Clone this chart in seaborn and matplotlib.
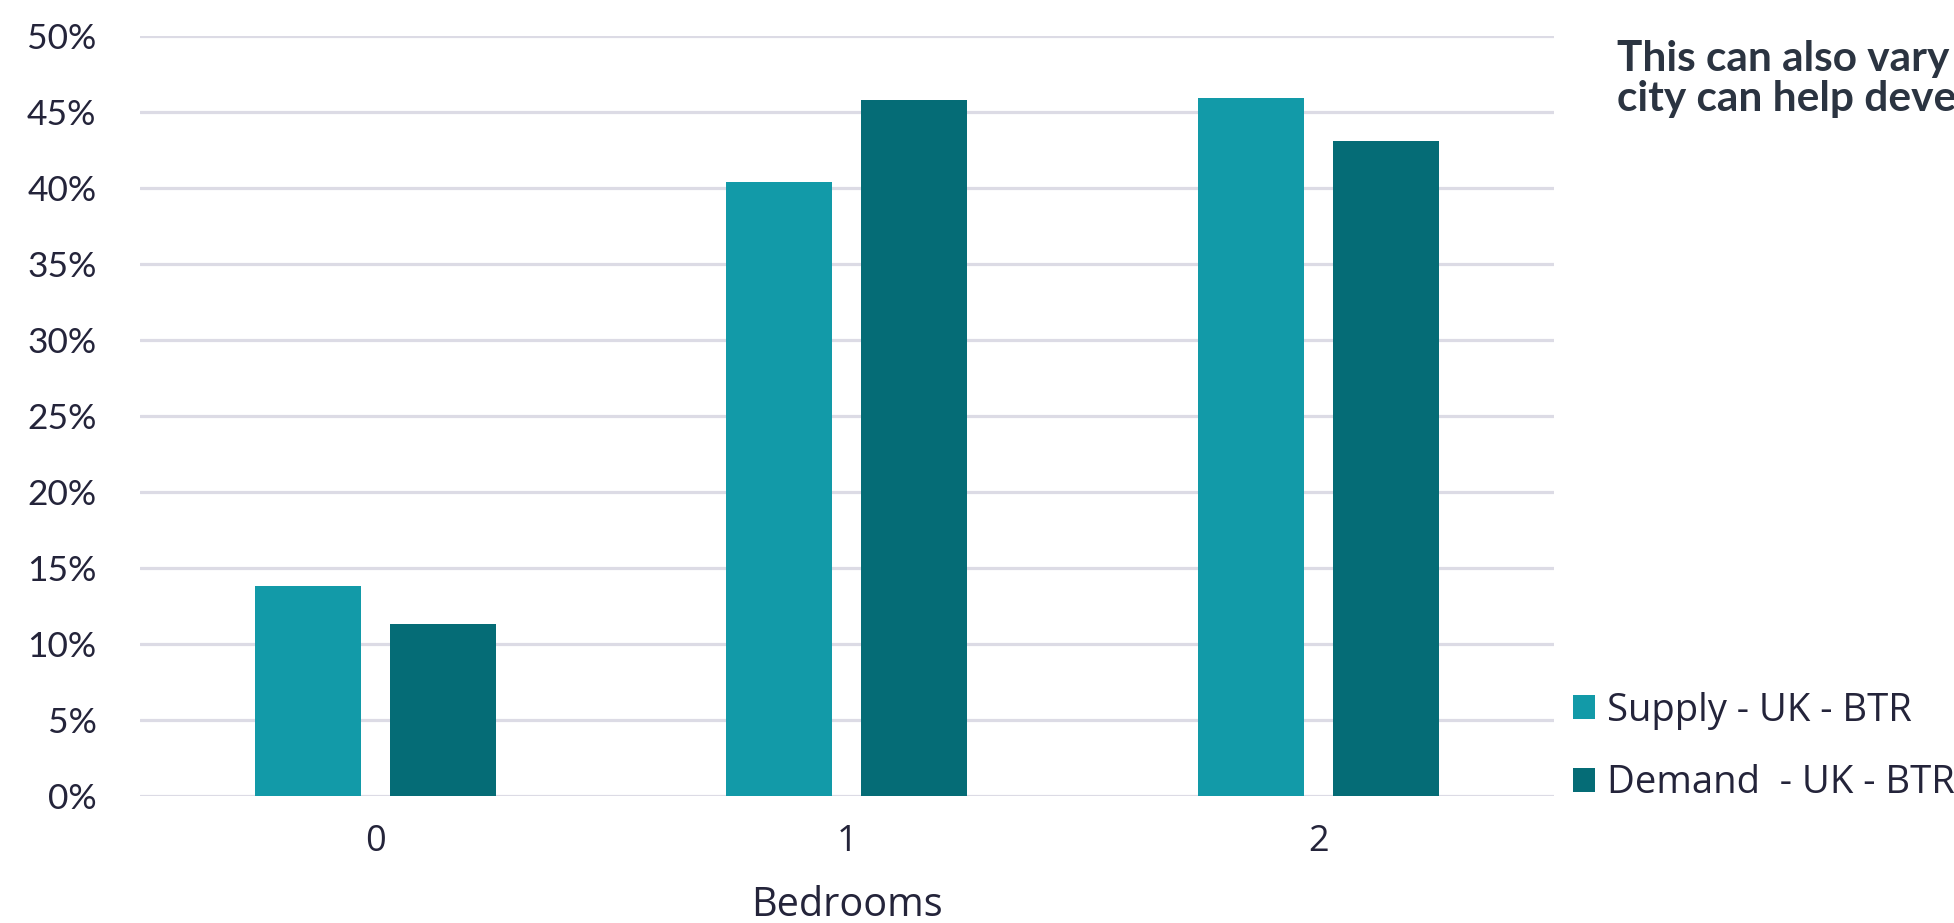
import matplotlib
matplotlib.use("Agg")
import matplotlib.pyplot as plt
from matplotlib.ticker import PercentFormatter, MultipleLocator
import seaborn as sns
import pandas as pd

# Share of units by bedroom count
bedrooms = ["0", "1", "2"]
supply = [0.138, 0.404, 0.459]
demand = [0.113, 0.458, 0.431]
series_names = ["Supply - UK - BTR", "Demand  - UK - BTR"]
series_colors = ["#129AA8", "#056C76"]

header_lines = ["This can also vary by city, so knowing the",
                "city can help developers plan their schemes"]

df = pd.DataFrame({
    "Bedrooms": bedrooms * 2,
    "Share": supply + demand,
    "Series": [series_names[0]] * len(bedrooms) + [series_names[1]] * len(bedrooms),
})

sns.set_theme(style="white")
text_color = "#24243a"
grid_color = "#dcdbe5"

fig = plt.figure(figsize=(19.54, 9.23), dpi=100)
ax = fig.add_axes([0.0714, 0.1376, 0.7239, 0.8234])

sns.barplot(data=df, x="Bedrooms", y="Share", hue="Series", order=bedrooms,
            hue_order=series_names, palette=series_colors, saturation=1,
            width=0.572, gap=0.215, linewidth=0, ax=ax, zorder=3)

ax.set_xlim(-0.5, 2.5)
ax.set_ylim(0, 0.5)
ax.yaxis.set_major_locator(MultipleLocator(0.05))
ax.yaxis.set_major_formatter(PercentFormatter(1.0, decimals=0))
ax.grid(axis="y", color=grid_color, linewidth=2.3, zorder=0)
ax.set_axisbelow(True)
for s in ax.spines.values():
    s.set_visible(False)

ax.tick_params(axis="y", length=0, pad=31, labelsize=25.5, labelcolor=text_color)
ax.tick_params(axis="x", length=0, pad=20, labelsize=26, labelcolor=text_color)
for lbl in ax.get_yticklabels():
    lbl.set_fontfamily("Lato")
for lbl in ax.get_xticklabels():
    lbl.set_fontfamily("Open Sans")

ax.set_ylabel("")
ax.set_xlabel("")
# axis title placed on its baseline near the lower edge
fig.text(0.0714 + 0.7239 / 2, 1 - 916 / 923, "Bedrooms", fontsize=28.5,
         color=text_color, family="Open Sans", ha="center", va="baseline")

leg = ax.get_legend()
handles = leg.legend_handles
leg.remove()
fig.legend(handles, series_names, loc="center left",
           bbox_to_anchor=(1573 / 1954, 1 - 747 / 923), frameon=False,
           prop={"family": "Open Sans", "size": 27.5}, labelcolor=text_color,
           handlelength=0.58, handleheight=0.58, handletextpad=0.3,
           labelspacing=0.91, borderpad=0, borderaxespad=0)

fig.text(1617 / 1954, 1 - 70 / 923, header_lines[0], fontsize=30.5, fontweight="bold",
         family="Lato", color="#2b3441", va="baseline", ha="left")
fig.text(1617 / 1954, 1 - 111 / 923, header_lines[1], fontsize=30.5, fontweight="bold",
         family="Lato", color="#2b3441", va="baseline", ha="left")

fig.savefig("out.png", dpi=100, facecolor="white")
